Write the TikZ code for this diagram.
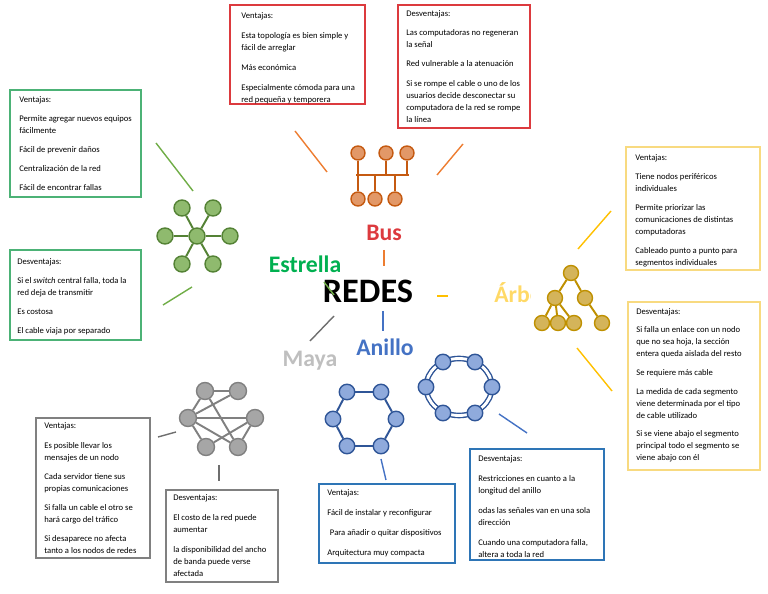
\documentclass[tikz,border=0pt]{standalone}
\usepackage{fontspec}
\setmainfont{Carlito}
\usepackage{tikz}
\usetikzlibrary{calc}

\definecolor{rojo}{RGB}{220,58,62}
\definecolor{naranja}{RGB}{237,125,49}
\definecolor{busfill}{RGB}{226,152,104}
\definecolor{busdark}{RGB}{197,90,17}
\definecolor{verdebox}{RGB}{76,178,118}
\definecolor{verdetxt}{RGB}{0,176,80}
\definecolor{verdeline}{RGB}{112,173,71}
\definecolor{estfill}{RGB}{143,186,110}
\definecolor{estdark}{RGB}{84,130,53}
\definecolor{amabox}{RGB}{248,218,128}
\definecolor{amatxt}{RGB}{255,217,102}
\definecolor{amaline}{RGB}{255,192,0}
\definecolor{arbfill}{RGB}{212,180,90}
\definecolor{arbdark}{RGB}{191,144,0}
\definecolor{grisbox}{RGB}{128,128,128}
\definecolor{gristxt}{RGB}{191,191,191}
\definecolor{grisline}{RGB}{110,110,110}
\definecolor{mayfill}{RGB}{166,166,166}
\definecolor{maydark}{RGB}{128,128,128}
\definecolor{azulbox}{RGB}{46,117,182}
\definecolor{azultxt}{RGB}{68,114,196}
\definecolor{anifill}{RGB}{143,170,220}
\definecolor{anidark}{RGB}{47,85,151}

\begin{document}
\begin{tikzpicture}
		[x=0.02cm,y=-0.02cm]
		\tikzstyle{txt}=[anchor=north west, inner sep=0pt, align=left,
		font=\fontsize{4.9}{6.8}\selectfont]
		\tikzstyle{titulo}=[inner sep=0pt, font=\fontsize{13.5}{14}\selectfont\bfseries]
		\tikzstyle{caja}=[line width=0.7pt]
		\tikzstyle{rama}=[line width=0.8pt]
		\tikzstyle{icono}=[line width=1.1pt]
		\tikzstyle{busn}=[circle, draw=busdark, fill=busfill, line width=0.8pt, inner sep=0pt, minimum size=0.28cm]
		\tikzstyle{estn}=[circle, draw=estdark, fill=estfill, line width=0.8pt, inner sep=0pt, minimum size=0.32cm]
		\tikzstyle{arbn}=[circle, draw=arbdark, fill=arbfill, line width=0.8pt, inner sep=0pt, minimum size=0.3cm]
		\tikzstyle{mayn}=[circle, draw=maydark, fill=mayfill, line width=0.8pt, inner sep=0pt, minimum size=0.34cm]
		\tikzstyle{anin}=[circle, draw=anidark, fill=anifill, line width=0.8pt, inner sep=0pt, minimum size=0.31cm]
		\useasboundingbox (0,0) rectangle (768,594);

		%-----centro
		\node[inner sep=0pt, font=\fontsize{19.5}{20}\selectfont\bfseries] (redes) at (368,291) {REDES};
		\node[titulo, text=rojo] (bus) at (384,233) {Bus};
		\node[titulo, text=verdetxt] (estrella) at (305,264) {Estrella};
		\node[titulo, text=azultxt] (anillo) at (385,347) {Anillo};
		\node[titulo, text=gristxt] (maya) at (310,361) {Maya};
		\node[titulo, text=amatxt, anchor=west] (arbol) at (494,293) {Árbol};
		\fill[white] (531,262) rectangle (618,338);

		%-----ramas
		\foreach \a/\b/\c/\d/\col in {384/250/384/266/naranja, 295/131/327/172/naranja, 463/144/437/175/naranja,
			324/282/334/295/verdeline, 156/143/193/191/verdeline, 163/305/192/287/verdeline,
			437/296/448/296/amaline, 578/249/611/211/amaline, 577/348/612/391/amaline,
			383/311/383/331/azultxt, 381/459/386/480/azultxt, 499/414/527/433/azultxt,
			334/316/310/341/grisline, 158/437/176/432/grisline, 219/465/219/481/grisline}
		{
			\coordinate (p) at (\a,\b);
			\coordinate (q) at (\c,\d);
			\draw[rama, \col] (p) -- (q);
		}

		%-----Bus
		\node[busn] (t1) at (358,153) {};
		\node[busn] (t2) at (386,153) {};
		\node[busn] (t3) at (407,153) {};
		\node[busn] (b1) at (358,199) {};
		\node[busn] (b2) at (375,199) {};
		\node[busn] (b3) at (395,199) {};
		\coordinate (bl) at (356,175);
		\coordinate (br) at (409,175);
		\draw[icono, busdark] (bl) -- (br);
		\draw[icono, busdark] (t1) -- (b1);
		\foreach \n in {t2,t3,b2,b3}
		\draw[icono, busdark] (\n) -- (\n |- bl);

		%-----Estrella
		\node[estn] (c) at (197,236) {};
		\node[estn] (s1) at (182,208) {};
		\node[estn] (s2) at (213,208) {};
		\node[estn] (s3) at (165,236) {};
		\node[estn] (s4) at (230,236) {};
		\node[estn] (s5) at (182,264) {};
		\node[estn] (s6) at (213,264) {};
		\foreach \n in {s1,s2,s3,s4,s5,s6}
		\draw[icono, estdark] (c) -- (\n);

		%-----Arbol
		\node[arbn] (a0) at (571,273) {};
		\node[arbn] (a1) at (555,298) {};
		\node[arbn] (a2) at (585,298) {};
		\node[arbn] (h1) at (542,323) {};
		\node[arbn] (h2) at (558,323) {};
		\node[arbn] (h3) at (574,323) {};
		\node[arbn] (h4) at (602,323) {};
		\foreach \from/\to in {a0/a1,a0/a2,a1/h1,a1/h2,a1/h3,a2/h4}
		\draw[icono, arbdark] (\from) -- (\to);

		%-----Maya
		\node[mayn] (m1) at (205,391) {};
		\node[mayn] (m2) at (238,391) {};
		\node[mayn] (m3) at (188,418) {};
		\node[mayn] (m4) at (255,418) {};
		\node[mayn] (m5) at (206,447) {};
		\node[mayn] (m6) at (238,447) {};
		\foreach \from/\to in {m1/m2,m3/m2,m3/m4,m3/m5,m3/m6,m1/m6,m4/m5,m4/m6,m1/m3}
		\draw[icono, maydark] (\from) -- (\to);

		%-----Anillo
		\node[anin] (r1) at (347,392) {};
		\node[anin] (r2) at (381,392) {};
		\node[anin] (r3) at (396,419) {};
		\node[anin] (r4) at (381,446) {};
		\node[anin] (r5) at (347,446) {};
		\node[anin] (r6) at (333,419) {};
		\foreach \from/\to in {r1/r2,r2/r3,r3/r4,r4/r5,r5/r6,r6/r1}
		\draw[icono, anidark] (\from) -- (\to);
		\draw[line width=0.8pt, anidark, double=white, double distance=1.6pt] (459,387) ellipse [x radius=33, y radius=28.5];
		\node[anin] (q1) at (443,362) {};
		\node[anin] (q2) at (475,362) {};
		\node[anin] (q3) at (492,387) {};
		\node[anin] (q4) at (475,413) {};
		\node[anin] (q5) at (443,413) {};
		\node[anin] (q6) at (426,387) {};

		%-----cajas
		\draw[caja, rojo] (230,5) rectangle (365,104);
		\node[txt] (busV) at (241,12.5) {Ventajas:\\[4.5pt]
			Esta topología es bien simple y\\ fácil de arreglar\\[4.5pt]
			Más económica\\[4.5pt]
			Especialmente cómoda para una\\ red pequeña y temporera};
		\draw[caja, rojo] (398,5) rectangle (530,128);
		\node[txt] (busD) at (406,10.5) {Desventajas:\\[4pt]
			Las computadoras no regeneran\\ la señal\\[4pt]
			Red vulnerable a la atenuación\\[4.5pt]
			Si se rompe el cable o uno de los\\ usuarios decide desconectar su\\
			computadora de la red se rompe\\ la línea};

		\draw[caja, verdebox] (10,90) rectangle (141,197);
		\node[txt] (estV) at (19,96.5) {Ventajas:\\[4pt]
			Permite agregar nuevos equipos\\ fácilmente\\[4pt]
			Fácil de prevenir daños\\[4pt]
			Centralización de la red\\[4pt]
			Fácil de encontrar fallas};
		\draw[caja, verdebox] (10,250) rectangle (141,340);
		\node[txt] (estD) at (17,258.5) {Desventajas:\\[4pt]
			Si el \textit{switch} central falla, toda la\\ red deja de transmitir\\[4pt]
			Es costosa\\[4pt]
			El cable viaja por separado};

		\draw[caja, amabox] (626,147) rectangle (760,270);
		\node[txt] (arbV) at (635,154.5) {Ventajas:\\[4pt]
			Tiene nodos periféricos\\ individuales\\[4pt]
			Permite priorizar las\\ comunicaciones de distintas\\ computadoras\\[4pt]
			Cableado punto a punto para\\ segmentos individuales};
		\draw[caja, amabox] (628,302) rectangle (760,470);
		\node[txt] (arbD) at (636,308.5) {Desventajas:\\[3.5pt]
			Si falla un enlace con un nodo\\ que no sea hoja, la sección\\ entera queda aislada del resto\\[4pt]
			Se requiere más cable\\[4pt]
			La medida de cada segmento\\ viene determinada por el tipo\\ de cable utilizado\\[3.5pt]
			Si se viene abajo el segmento\\ principal todo el segmento se\\ viene abajo con él};

		\draw[caja, grisbox] (36,418) rectangle (150,558);
		\node[txt] (mayV) at (44,422.5) {Ventajas:\\[4.5pt]
			Es posible llevar los\\ mensajes de un nodo\\[4pt]
			Cada servidor tiene sus\\ propias comunicaciones\\[4pt]
			Si falla un cable el otro se\\ hará cargo del tráfico\\[4pt]
			Si desaparece no afecta\\ tanto a los nodos de redes};
		\draw[caja, grisbox] (166,490) rectangle (278,582);
		\node[txt] (mayD) at (173,494.5) {Desventajas:\\[4.5pt]
			El costo de la red puede\\ aumentar\\[4.5pt]
			la disponibilidad del ancho\\ de banda puede verse\\ afectada};

		\draw[caja, azulbox] (319,484) rectangle (455,563);
		\node[txt] (aniV) at (327,489.5) {Ventajas:\\[4.5pt]
			Fácil de instalar y reconfigurar\\[4.5pt]
			\hspace{1.5pt}Para añadir o quitar dispositivos\\[4.5pt]
			Arquitectura muy compacta};
		\draw[caja, azulbox] (470,449) rectangle (604,560);
		\node[txt] (aniD) at (478,455.5) {Desventajas:\\[4.5pt]
			Restricciones en cuanto a la\\ longitud del anillo\\[4.5pt]
			odas las señales van en una sola\\ dirección\\[4.5pt]
			Cuando una computadora falla,\\ altera a toda la red};
\end{tikzpicture}
\end{document}
